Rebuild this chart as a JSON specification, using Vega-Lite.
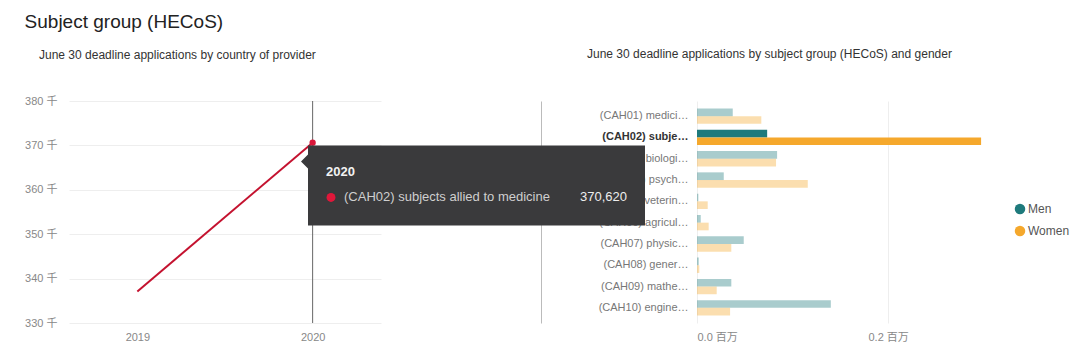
{
  "$schema": "https://vega.github.io/schema/vega-lite/v6.json",
  "padding": {"left": 24, "top": 13, "right": 5, "bottom": 5},
  "background": "#ffffff",
  "bounds": "flush",
  "title": {"text": "Subject group (HECoS)", "anchor": "start", "frame": "bounds", "fontSize": 19, "fontWeight": "normal", "color": "#222222", "offset": 16},
  "datasets": {
    "trend": [
      {"year": "2019", "value": 337100},
      {"year": "2020", "value": 370620}
    ],
    "tip": [
      {"year": "2020", "value": 370620, "head": "2020", "name": "(CAH02) subjects allied to medicine", "label": "370,620"}
    ],
    "bars": [
      {"subject": "(CAH01) medicine and dentistry", "gender": "Men", "value": 37400},
      {"subject": "(CAH01) medicine and dentistry", "gender": "Women", "value": 67300},
      {"subject": "(CAH02) subjects allied to medicine", "gender": "Men", "value": 73400},
      {"subject": "(CAH02) subjects allied to medicine", "gender": "Women", "value": 297220},
      {"subject": "(CAH03) biological and sport sciences", "gender": "Men", "value": 83800},
      {"subject": "(CAH03) biological and sport sciences", "gender": "Women", "value": 82700},
      {"subject": "(CAH04) psychology", "gender": "Men", "value": 28000},
      {"subject": "(CAH04) psychology", "gender": "Women", "value": 115900},
      {"subject": "(CAH05) veterinary sciences", "gender": "Men", "value": 1400},
      {"subject": "(CAH05) veterinary sciences", "gender": "Women", "value": 11200},
      {"subject": "(CAH06) agriculture, food and related studies", "gender": "Men", "value": 3900},
      {"subject": "(CAH06) agriculture, food and related studies", "gender": "Women", "value": 12200},
      {"subject": "(CAH07) physical sciences", "gender": "Men", "value": 48900},
      {"subject": "(CAH07) physical sciences", "gender": "Women", "value": 35900},
      {"subject": "(CAH08) general and others in sciences", "gender": "Men", "value": 1800},
      {"subject": "(CAH08) general and others in sciences", "gender": "Women", "value": 2400},
      {"subject": "(CAH09) mathematical sciences", "gender": "Men", "value": 35900},
      {"subject": "(CAH09) mathematical sciences", "gender": "Women", "value": 20600},
      {"subject": "(CAH10) engineering and technology", "gender": "Men", "value": 140000},
      {"subject": "(CAH10) engineering and technology", "gender": "Women", "value": 34600}
    ]
  },
  "spacing": 316,
  "hconcat": [
    {
      "width": 312,
      "height": 222,
      "title": {"text": "June 30 deadline applications by country of provider", "anchor": "start", "frame": "group", "dx": -30, "fontSize": 12, "fontWeight": 500, "color": "#333333", "offset": 33},
      "resolve": {"axis": {"y": "independent"}},
      "layer": [
        {
          "data": {"name": "tip"},
          "mark": {"type": "rule", "color": "#666666", "strokeWidth": 1},
          "encoding": {
            "x": {"field": "year", "type": "ordinal", "scale": {"type": "point", "domain": ["2019", "2020"], "padding": 0.39}, "axis": {"labelAngle": 0, "ticks": false, "domain": false, "title": null, "labelColor": "#888888", "labelFontSize": 11, "labelPadding": 8}}
          }
        },
        {
          "data": {"name": "trend"},
          "mark": {"type": "line", "color": "#c4122f", "strokeWidth": 2},
          "encoding": {
            "x": {"field": "year", "type": "ordinal"},
            "y": {"field": "value", "type": "quantitative", "scale": {"domain": [330000, 380000], "nice": false, "zero": false},
              "axis": {"values": [330000, 340000, 350000, 360000, 370000, 380000], "labelExpr": "format(datum.value/1000, 'd') + ' 千'", "ticks": false, "domain": false, "title": null, "gridColor": "#eeeeee", "labelColor": "#888888", "labelFontSize": 11, "labelPadding": 12}}
          }
        },
        {
          "data": {"name": "tip"},
          "mark": {"type": "point", "filled": true, "color": "#d9173a", "size": 40, "opacity": 1},
          "encoding": {
            "x": {"field": "year", "type": "ordinal"},
            "y": {"field": "value", "type": "quantitative", "axis": {"orient": "right", "offset": 160, "labels": false, "ticks": false, "grid": false, "domain": true, "domainColor": "#bbbbbb", "title": null}}
          }
        }
      ]
    },
    {
      "width": 303,
      "height": 222,
      "title": {"text": "June 30 deadline applications by subject group (HECoS) and gender", "anchor": "start", "frame": "group", "dx": -110, "fontSize": 12, "fontWeight": 500, "color": "#333333", "offset": 40},
      "layer": [
        {
          "data": {"name": "bars"},
          "mark": {"type": "bar"},
          "encoding": {
            "y": {"field": "subject", "type": "nominal", "sort": null, "scale": {"paddingInner": 0.28, "paddingOuter": 0.35},
              "axis": {"title": null, "ticks": false, "domain": false, "labelLimit": 90, "labelFontSize": 11, "labelPadding": 9,
                "labelColor": {"condition": {"test": "datum.value === '(CAH02) subjects allied to medicine'", "value": "#333333"}, "value": "#777777"},
                "labelFontWeight": {"condition": {"test": "datum.value === '(CAH02) subjects allied to medicine'", "value": "bold"}, "value": "normal"}}},
            "yOffset": {"field": "gender", "type": "nominal", "sort": ["Men", "Women"], "scale": {"paddingInner": 0, "paddingOuter": 0}},
            "x": {"field": "value", "type": "quantitative", "scale": {"domain": [0, 317000], "nice": false},
              "axis": {"values": [0, 200000], "labelExpr": "format(datum.value/1000000, '.1f') + ' 百万'", "ticks": false, "domain": false, "title": null, "gridColor": "#eeeeee", "labelColor": "#888888", "labelFontSize": 11, "labelPadding": 8}},
            "color": {"field": "gender", "type": "nominal", "sort": ["Men", "Women"], "scale": {"domain": ["Men", "Women"], "range": ["#1e7a7c", "#f5a82c"]},
              "legend": {"title": null, "orient": "none", "legendX": 945, "legendY": 102, "symbolType": "circle", "symbolSize": 110, "symbolOpacity": 1, "labelFontSize": 12, "labelColor": "#555555", "rowPadding": 10, "labelOffset": 2}},
            "opacity": {"condition": {"test": "datum.subject === '(CAH02) subjects allied to medicine'", "value": 1}, "value": 0.38}
          }
        },
        {
          "data": {"name": "tip"},
          "mark": {"type": "point", "filled": true, "color": "#3a3a3c", "opacity": 1, "size": 40000, "shape": "M-3.89,0.08 L-0.52,0.08 L-0.52,0.88 L-3.89,0.88 L-3.89,0.31 L-3.96,0.24 L-3.89,0.17 Z"},
          "encoding": {
            "x": {"datum": 0, "type": "quantitative"},
            "y": {"field": "name", "type": "nominal", "sort": null}
          }
        },
        {
          "data": {"name": "tip"},
          "mark": {"type": "text", "align": "left", "baseline": "middle", "dx": -371, "dy": 35, "fontSize": 13, "fontWeight": "bold", "color": "#f2f2f2"},
          "encoding": {
            "x": {"datum": 0, "type": "quantitative"},
            "y": {"field": "name", "type": "nominal", "sort": null},
            "text": {"field": "head"}
          }
        },
        {
          "data": {"name": "tip"},
          "mark": {"type": "point", "filled": true, "color": "#e0173a", "opacity": 1, "size": 80, "xOffset": -366, "yOffset": 60},
          "encoding": {
            "x": {"datum": 0, "type": "quantitative"},
            "y": {"field": "name", "type": "nominal", "sort": null}
          }
        },
        {
          "data": {"name": "tip"},
          "mark": {"type": "text", "align": "left", "baseline": "middle", "dx": -353, "dy": 60, "fontSize": 13, "color": "#cfcfcf"},
          "encoding": {
            "x": {"datum": 0, "type": "quantitative"},
            "y": {"field": "name", "type": "nominal", "sort": null},
            "text": {"field": "name"}
          }
        },
        {
          "data": {"name": "tip"},
          "mark": {"type": "text", "align": "right", "baseline": "middle", "dx": -70, "dy": 60, "fontSize": 13, "color": "#eeeeee"},
          "encoding": {
            "x": {"datum": 0, "type": "quantitative"},
            "y": {"field": "name", "type": "nominal", "sort": null},
            "text": {"field": "label"}
          }
        }
      ]
    }
  ],
  "config": {
    "font": "Liberation Sans, Noto Sans CJK SC, sans-serif",
    "view": {"stroke": null},
    "axis": {"labelFont": "Liberation Sans, Noto Sans CJK SC, sans-serif"}
  }
}
